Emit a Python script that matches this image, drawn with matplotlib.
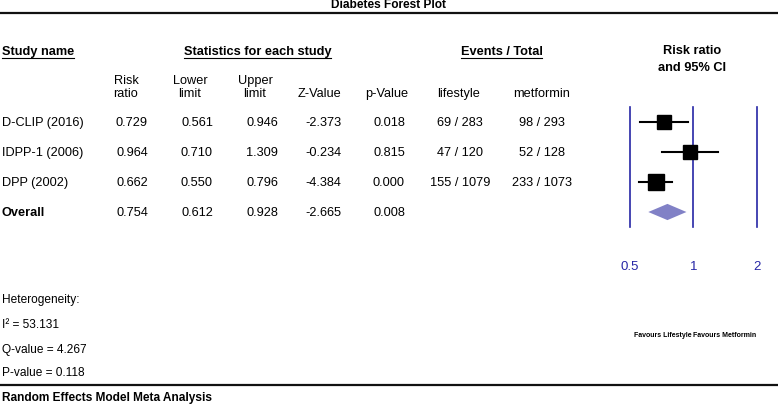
import numpy as np
import matplotlib
matplotlib.use("Agg")
import matplotlib.pyplot as plt

plt.rcParams['font.family'] = ['Liberation Sans', 'DejaVu Sans']

# Study data
studies = ['D-CLIP (2016)', 'IDPP-1 (2006)', 'DPP (2002)']
risk_ratio = [0.729, 0.964, 0.662]
lower = [0.561, 0.710, 0.550]
upper = [0.946, 1.309, 0.796]
z_value = [-2.373, -0.234, -4.384]
p_value = [0.018, 0.815, 0.000]
events_lifestyle = ['69 / 283', '47 / 120', '155 / 1079']
events_metformin = ['98 / 293', '52 / 128', '233 / 1073']

# Overall (random effects)
overall = {'rr': 0.754, 'lower': 0.612, 'upper': 0.928, 'z': -2.665, 'p': 0.008}

# Heterogeneity
i2 = 53.131
q_value = 4.267
het_p = 0.118

axis_ticks = [0.5, 1, 2]

W, H = 778, 406
fig = plt.figure(figsize=(W / 100, H / 100), dpi=100)

# Full-figure axes in pixel units for the table part
ax = fig.add_axes([0, 0, 1, 1])
ax.set_xlim(0, W)
ax.set_ylim(H, 0)
ax.axis('off')

fs = 9.2
row_y0, row_dy = 123, 30

ax.text(389, 5, 'Diabetes Forest Plot', ha='center', va='center', fontsize=8.6, fontweight='bold')
ax.plot([0, W], [14, 14], color='#111111', lw=1.6)
ax.plot([0, W], [386, 386], color='#111111', lw=1.6)
ax.text(2, 398, 'Random Effects Model Meta Analysis', ha='left', va='center', fontsize=8.6, fontweight='bold')

# Group headers (underlined)
headers = [
    ('Study name', 2, 'left'),
    ('Statistics for each study', 257.5, 'center'),
    ('Events / Total', 501.5, 'center'),
]
header_texts = []
for label, x, ha in headers:
    header_texts.append(ax.text(x, 52, label, ha=ha, va='center', fontsize=fs, fontweight='bold'))
ax.text(692, 51, 'Risk ratio', ha='center', va='center', fontsize=fs, fontweight='bold')
ax.text(692, 68, 'and 95% CI', ha='center', va='center', fontsize=fs, fontweight='bold')

# Column sub-headers
col_x = [132, 197, 262, 323, 389, 460, 542]
ax.text(126, 81, 'Risk', ha='center', va='center', fontsize=fs)
ax.text(126, 94, 'ratio', ha='center', va='center', fontsize=fs)
ax.text(190, 81, 'Lower', ha='center', va='center', fontsize=fs)
ax.text(190, 94, 'limit', ha='center', va='center', fontsize=fs)
ax.text(255, 81, 'Upper', ha='center', va='center', fontsize=fs)
ax.text(255, 94, 'limit', ha='center', va='center', fontsize=fs)
ax.text(320, 94, 'Z-Value', ha='center', va='center', fontsize=fs)
ax.text(387, 94, 'p-Value', ha='center', va='center', fontsize=fs)
ax.text(459, 94, 'lifestyle', ha='center', va='center', fontsize=fs)
ax.text(542, 94, 'metformin', ha='center', va='center', fontsize=fs)

# Study rows
for i, name in enumerate(studies):
    y = row_y0 + row_dy * i
    ax.text(2, y, name, ha='left', va='center', fontsize=fs)
    vals = [f'{risk_ratio[i]:.3f}', f'{lower[i]:.3f}', f'{upper[i]:.3f}',
            f'{z_value[i]:.3f}', f'{p_value[i]:.3f}', events_lifestyle[i], events_metformin[i]]
    for x, v in zip(col_x, vals):
        ax.text(x, y, v, ha='center', va='center', fontsize=fs)

y = row_y0 + row_dy * len(studies)
ax.text(2, y, 'Overall', ha='left', va='center', fontsize=fs, fontweight='bold')
for x, v in zip(col_x, [overall['rr'], overall['lower'], overall['upper'], overall['z'], overall['p']]):
    ax.text(x, y, f'{v:.3f}', ha='center', va='center', fontsize=fs)

# Heterogeneity block
hfs = 8.6
ax.text(2, 300, 'Heterogeneity:', ha='left', va='center', fontsize=hfs)
ax.text(2, 325, f'I\u00b2 = {i2:.3f}', ha='left', va='center', fontsize=hfs)
ax.text(2, 350, f'Q-value = {q_value:.3f}', ha='left', va='center', fontsize=hfs)
ax.text(2, 373, f'P-value = {het_p:.3f}', ha='left', va='center', fontsize=hfs)

# Forest plot axes: log2 scale, 63.5 px per doubling, 1 at x=693.3
left_px, px_per = 600, 63.5
one_px = 693.3
fa = fig.add_axes([left_px / W, 0, (W - left_px) / W, 1])
fa.set_xscale('log', base=2)
fa.set_xlim(2 ** ((left_px - one_px) / px_per), 2 ** ((W - one_px) / px_per))
fa.set_ylim((H - row_y0) / row_dy, -row_y0 / row_dy)
fa.axis('off')
fa.patch.set_alpha(0)

blue = '#2626a6'
for t in axis_ticks:
    fa.plot([t, t], [-0.5, 3.5], color=blue, lw=1.2)
    fa.text(t, 4.8, f'{t:g}', ha='center', va='center', fontsize=9.5, color=blue)

marker_sizes = [10.0, 9.4, 11.4]
for i in range(len(studies)):
    fa.plot([lower[i], upper[i]], [i, i], color='black', lw=1.5, zorder=3)
    fa.plot(risk_ratio[i], i, marker='s', color='black', markersize=marker_sizes[i], zorder=4)

n = len(studies)
fa.fill([overall['lower'], overall['rr'], overall['upper'], overall['rr']],
        [n, n - 0.27, n, n + 0.27], color='#8181c6', lw=0, zorder=3)

fa.text(0.978, (336 - row_y0) / row_dy, 'Favours Lifestyle', ha='right', va='center',
        fontsize=5, fontweight='bold')
fa.text(1.0, (336 - row_y0) / row_dy, 'Favours Metformin', ha='left', va='center',
        fontsize=5, fontweight='bold')

# Underline the group headers
fig.canvas.draw()
for t in header_texts:
    bb = t.get_window_extent()
    ax.plot([bb.x0, bb.x1], [59, 59], color='black', lw=0.8)

plt.savefig('out.png', dpi=100)
